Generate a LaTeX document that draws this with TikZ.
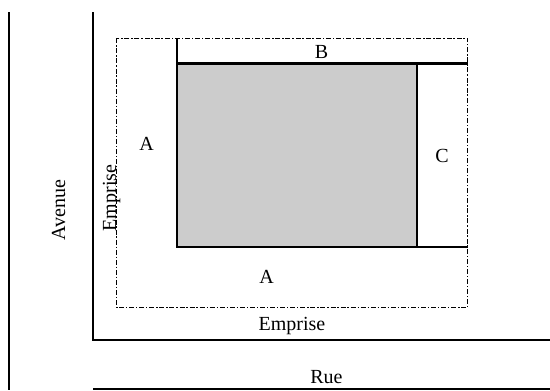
\documentclass[tikz,border=0pt]{standalone}
\usepackage{fontspec}
\setmainfont{Liberation Serif}
\begin{document}
\begin{tikzpicture}[x=0.75pt,y=-0.75pt,
  thickline/.style={line width=1.6pt},
  thinline/.style={line width=1.1pt},
  emprisebox/.style={line width=0.75pt, dash pattern=on 3.75pt off 1.4pt on 1pt off 1.4pt},
  lbl/.style={inner sep=0pt, anchor=base, font=\fontsize{15}{18}\selectfont}]
\useasboundingbox (0,0) rectangle (550,390);
% streets
\draw[thickline] (9,12) -- (9,390);
\draw[thickline] (93,12) -- (93,340) -- (550,340);
\draw[thinline] (93,389) -- (550,389);
% emprise
\draw[emprisebox] (116.7,38.3) rectangle (467.7,307.7);
% building
\fill[fill={rgb,255:red,204;green,204;blue,204}] (177,63.5) rectangle (416.7,246.7);
\draw[thickline] (177,38.3) -- (177,246.7) -- (467.7,246.7);
\draw[thickline] (177,63.5) -- (467.7,63.5);
\draw[thickline] (416.7,63.5) -- (416.7,246.7);
% labels
\node[lbl] (b) at (321.5,58) {B};
\node[lbl] (a1) at (146.5,150) {A};
\node[lbl] (c) at (442,162.5) {C};
\node[lbl] (a2) at (266.7,283.3) {A};
\node[lbl] (emp1) at (292,330) {Emprise};
\node[lbl] (rue) at (326.5,383) {Rue};
\node[lbl, rotate=90] (ave) at (65,210) {Avenue};
\node[lbl, rotate=90] (emp2) at (116,198) {Emprise};
\end{tikzpicture}
\end{document}
